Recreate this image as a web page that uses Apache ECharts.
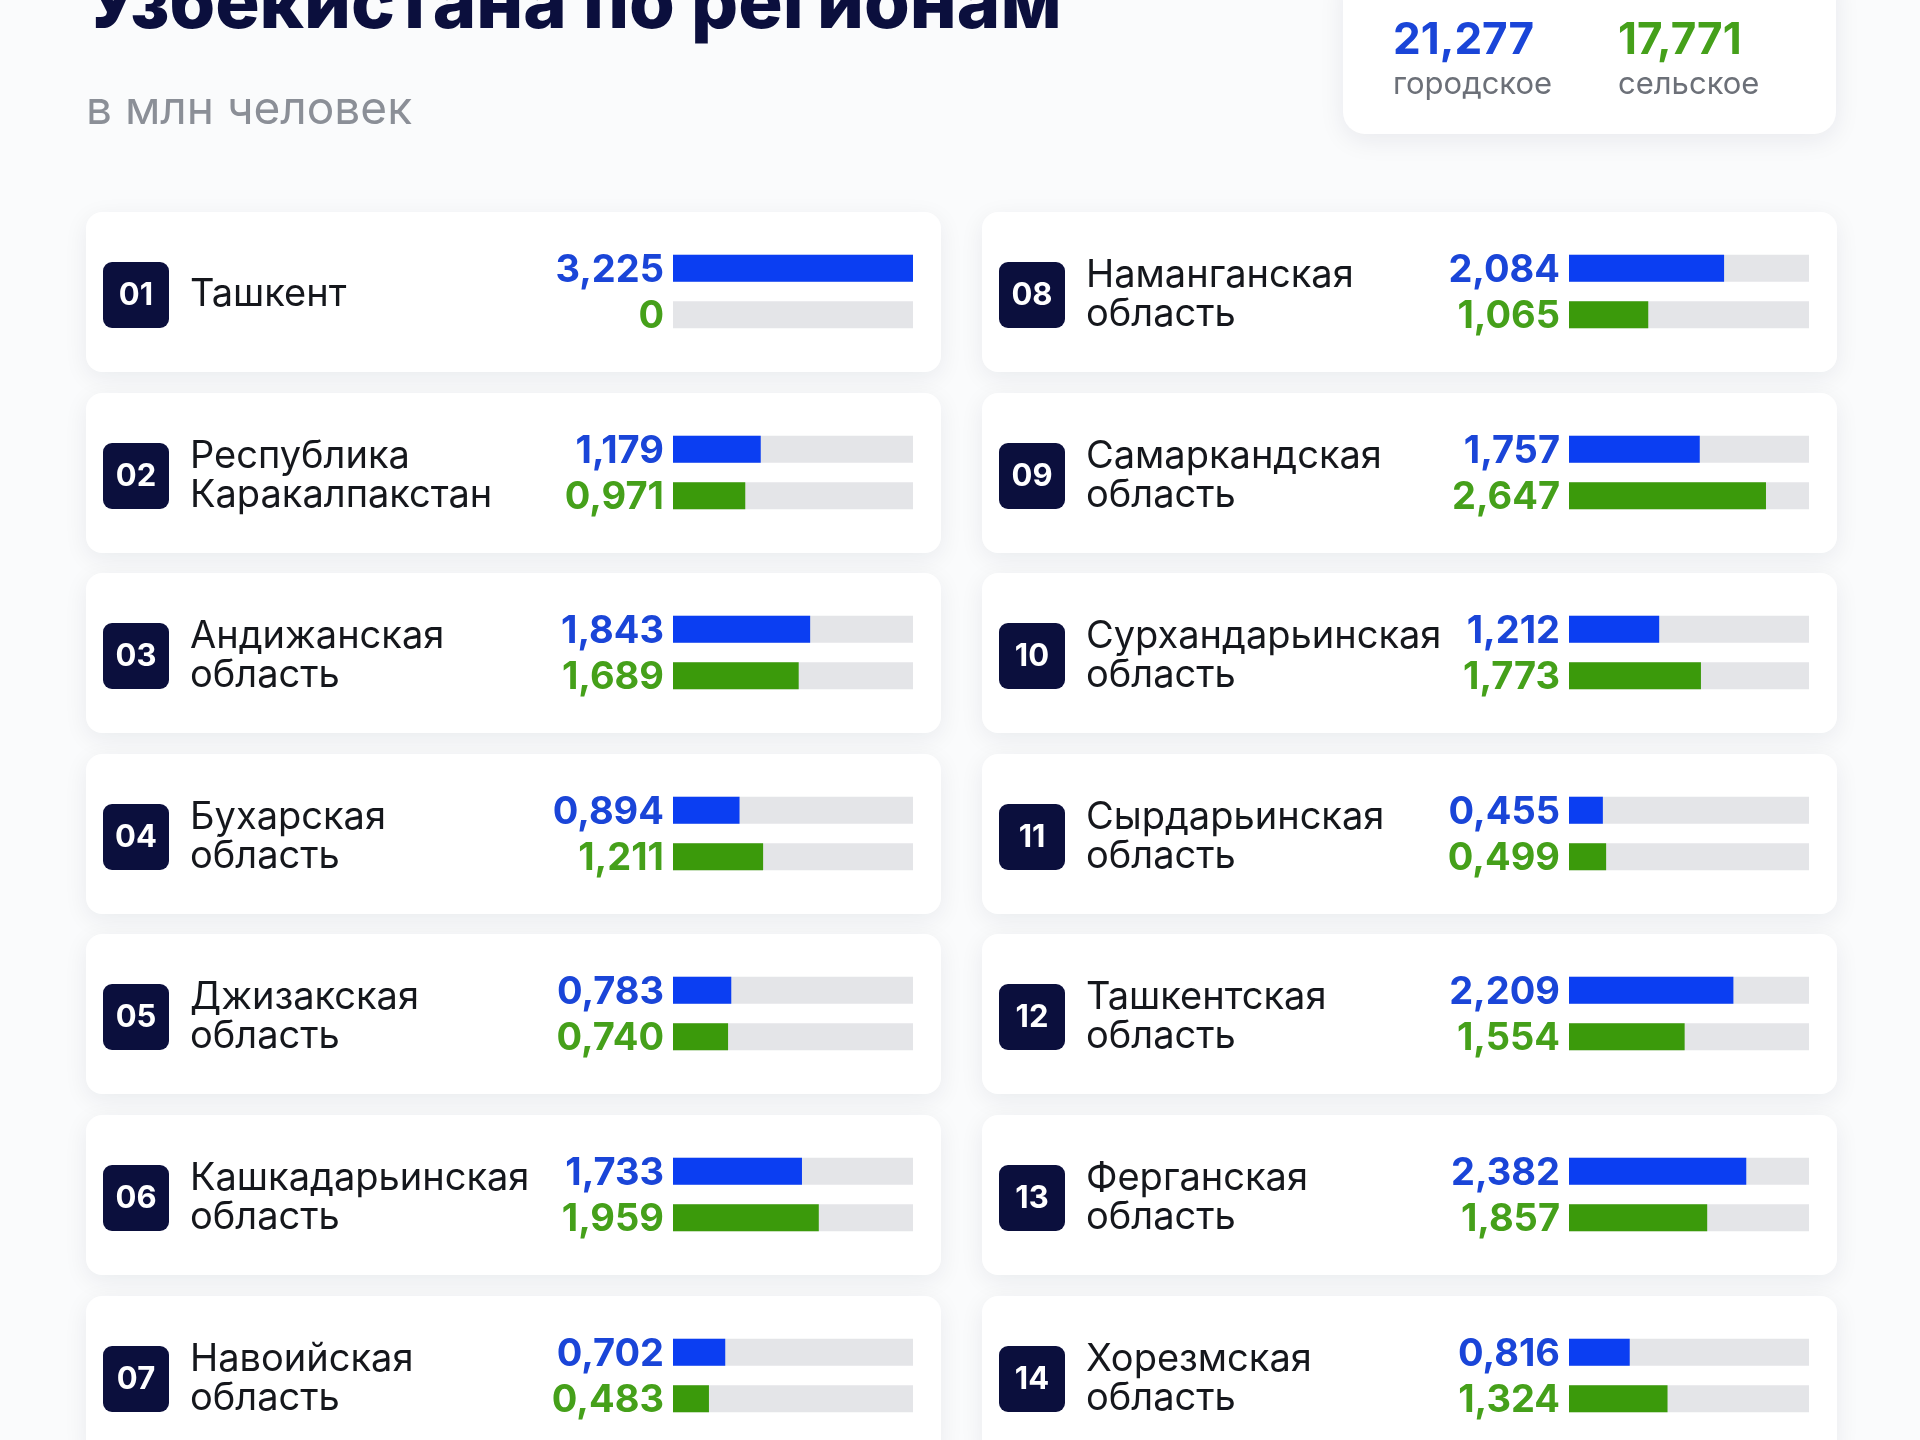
<!DOCTYPE html>
<html>
<head>
<meta charset="utf-8">
<script src="https://cdn.jsdelivr.net/npm/echarts@6/dist/echarts.min.js"></script>
<style>
  html, body { margin: 0; padding: 0; background: #fafbfc; }
  #chart { width: 1920px; height: 1440px; }
</style>
</head>
<body>
<div id="chart"></div>
<script>
// данные
const regions = [
  "Ташкент", "Республика Каракалпакстан", "Андижанская область", "Бухарская область",
  "Джизакская область", "Кашкадарьинская область", "Навоийская область",
  "Наманганская область", "Самаркандская область", "Сурхандарьинская область",
  "Сырдарьинская область", "Ташкентская область", "Ферганская область", "Хорезмская область"
];
const urban = [3.225, 1.179, 1.843, 0.894, 0.783, 1.733, 0.702, 2.084, 1.757, 1.212, 0.455, 2.209, 2.382, 0.816];
const rural = [0, 0.971, 1.689, 1.211, 0.740, 1.959, 0.483, 1.065, 2.647, 1.773, 0.499, 1.554, 1.857, 1.324];
const totals = ["21,277", "17,771"];
const totalNames = ["городское", "сельское"];
const titleText = "Узбекистана по регионам";
const subtitleText = "в млн человек";

const BLUE = "#0b3ef2", BLUE_T = "#1a45d8";
const GREEN = "#3b9a0b", GREEN_T = "#45a01a";
const NAVY = "#0b0f3d";
const FONT = "Inter, Roboto, sans-serif";

let myChart = echarts.init(document.getElementById("chart"));

const maxVal = Math.max(...urban, ...rural);
const colX = [86, 982];
const cardW = 855, cardH = 160, top0 = 212, step = 180.6;

function fmt(v) {
  return v === 0 ? "0" : v.toFixed(3).replace(".", ",");
}

// текст по базовой линии (middle ≈ базовая линия - 0.36em)
function textAt(str, x, baseline, size, weight, color) {
  return { type: "text", z: 1, style: { text: str, x: x, y: baseline - 0.36 * size, fill: color,
      font: weight + " " + size + "px " + FONT, verticalAlign: "middle" } };
}

let grids = [], xAxes = [], yAxes = [], series = [];
let graphics = [
  // заголовок
  textAt(titleText, 86, 32, 74, 800, NAVY),
  textAt(subtitleText, 86, 127, 46, 400, "#8b8f97"),
  // итоговая карточка
  { type: "rect", z: 0, shape: { x: 1343, y: -30, width: 493, height: 164, r: 22 },
    style: { fill: "#fff", shadowBlur: 26, shadowOffsetY: 6, shadowColor: "rgba(20,30,60,0.08)" } }
];
[BLUE_T, GREEN_T].forEach(function (c, k) {
  const x = k === 0 ? 1393 : 1618;
  graphics.push(textAt(totals[k], x, 57, 44, 700, c));
  graphics.push(textAt(totalNames[k], x, 96, 31, 400, "#6c7078"));
});

regions.forEach(function (name, i) {
  const col = i < 7 ? 0 : 1;
  const row = i % 7;
  const x = colX[col];
  const y = Math.round(top0 + row * step);
  const cy = y + cardH / 2;

  // карточка
  graphics.push({ type: "rect", z: 0, shape: { x: x, y: y, width: cardW, height: cardH, r: 16 },
    style: { fill: "#fff", shadowBlur: 24, shadowOffsetY: 6, shadowColor: "rgba(20,30,60,0.07)" } });
  // номер
  graphics.push({ type: "rect", z: 1, shape: { x: x + 17, y: cy - 30, width: 66, height: 66, r: 9 },
    style: { fill: NAVY } });
  graphics.push({ type: "text", z: 2, style: { text: String(i + 1).padStart(2, "0"),
      x: x + 50, y: cy + 4, fill: "#fff", font: "700 31px " + FONT,
      align: "center", verticalAlign: "middle" } });
  // название
  graphics.push({ type: "text", z: 1, style: { text: name.replace(" ", "\n"),
      x: x + 104, y: cy + 3, fill: "#15171c", font: "400 38px " + FONT, lineHeight: 39,
      verticalAlign: "middle" } });

  grids.push({ left: x + 587, top: y + 33, width: 240, height: 93 });
  xAxes.push({ gridIndex: i, type: "value", min: 0, max: maxVal, show: false });
  yAxes.push({ gridIndex: i, type: "category", data: totalNames, inverse: true, show: false });
  series.push({
    type: "bar",
    xAxisIndex: i,
    yAxisIndex: i,
    barWidth: 27,
    silent: true,
    showBackground: true,
    backgroundStyle: { color: "#e4e5e8" },
    label: {
      show: true,
      position: "left",
      distance: 9,
      offset: [0, 2],
      fontFamily: FONT,
      fontWeight: 700,
      fontSize: 38,
      formatter: function (p) { return fmt(p.value); }
    },
    data: [
      { value: urban[i], itemStyle: { color: BLUE }, label: { color: BLUE_T } },
      { value: rural[i], itemStyle: { color: GREEN }, label: { color: GREEN_T } }
    ]
  });
});

let option = {
  backgroundColor: "#fafbfc",
  animation: false,
  graphic: graphics,
  grid: grids,
  xAxis: xAxes,
  yAxis: yAxes,
  series: series
};
myChart.setOption(option);
window.addEventListener("resize", function () {
  myChart.resize();
});
</script>
</body>
</html>
